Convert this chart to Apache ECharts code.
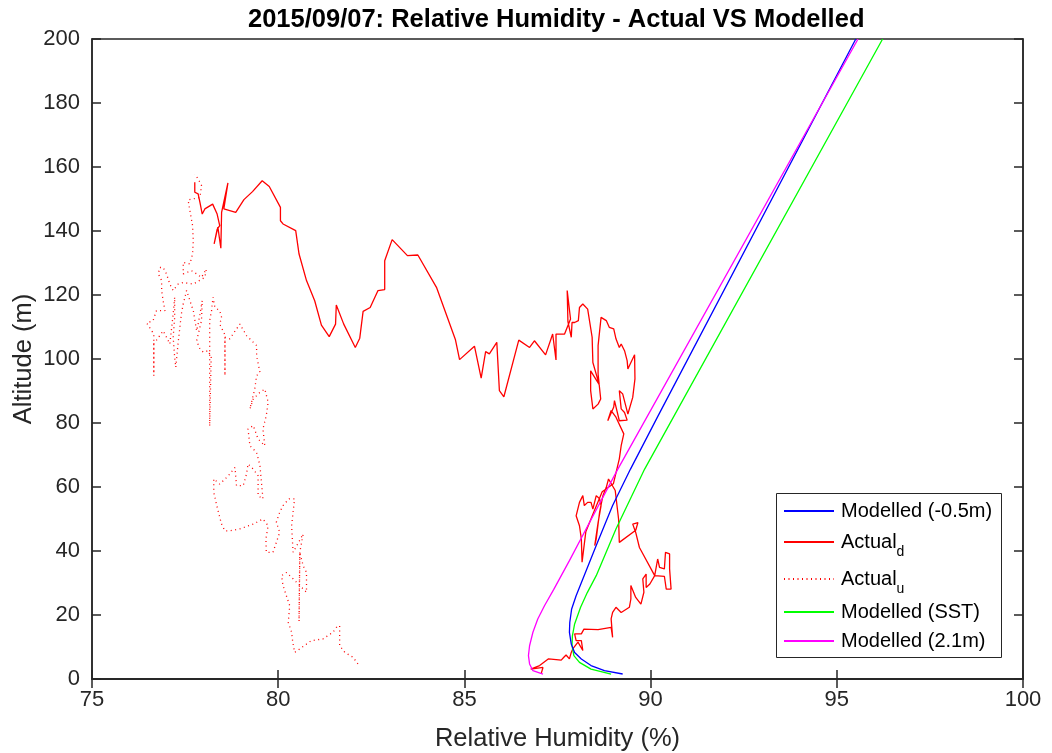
<!DOCTYPE html>
<html>
<head>
<meta charset="utf-8">
<title>Relative Humidity - Actual VS Modelled</title>
<script src="https://cdn.jsdelivr.net/npm/echarts@6/dist/echarts.min.js"></script>
<style>
  html, body { margin: 0; padding: 0; background: #fff; }
  #chart { width: 1052px; height: 753px; }
</style>
</head>
<body>
<div id="chart"></div>
<script>
// Profiles as [relative humidity (%), altitude (m)]
var modelledNeg05 = [
  [89.25,1.56],[88.76,2.6],[88.40,4.2],[88.14,6.25],[87.96,8.3],[87.87,10.9],[87.82,14.6],
  [87.83,17.7],[87.88,21.9],[88.00,26.0],[88.18,31.25],[88.54,41.7],[88.98,54.2],[89.46,65.6],
  [90.19,82.0],[95.51,200]
];
var modelledSST = [
  [88.94,1.56],[88.40,3.1],[88.09,5.2],[87.94,7.3],[87.89,10.4],[87.90,13.5],[87.96,17.2],
  [88.12,22.4],[88.30,27.0],[88.54,32.3],[89.07,46.9],[89.84,65.6],[96.23,200]
];
var modelled21 = [
  [87.11,1.56],[86.84,2.6],[86.75,4.7],[86.72,7.3],[86.75,10.4],[86.84,14.6],[86.97,18.75],
  [87.15,22.9],[87.40,28.0],[87.82,37.0],[88.36,48.9],[89.12,65.6],[95.57,200]
];
var actualDown = [
  [87.06,1.6],[87.11,3.6],[86.78,3.1],[87.02,4.2],[87.26,6.3],[87.60,5.9],[87.67,6.8],[87.73,7.5],
  [87.82,6.3],[87.87,8.3],[87.91,9.4],[88.05,11.5],[88.18,8.9],[88.14,12.0],[88.00,12.0],[87.96,14.1],
  [87.91,14.6],[88.00,14.6],[88.14,14.1],[88.21,15.6],[88.59,15.4],[88.94,16.1],[88.98,13.0],[88.94,18.8],
  [88.98,20.8],[89.07,22.4],[89.21,20.8],[89.43,22.4],[89.47,25.0],[89.47,29.2],[89.60,25.5],[89.74,23.4],
  [89.82,27.1],[89.79,31.3],[89.88,32.8],[89.88,28.6],[89.98,29.7],[90.11,32.3],[90.37,32.1],[90.42,28.1],
  [90.55,28.1],[90.51,34.4],[90.51,39.1],[90.40,39.6],[90.37,34.4],[90.24,34.9],[90.19,37.5],[90.11,32.3],
  [89.70,41.1],[89.60,45.8],[89.52,48.4],[89.66,48.9],[89.60,46.5],[89.16,42.7],[89.14,50.0],[89.05,58.9],
  [88.87,62.5],[88.81,59.9],[88.72,57.3],[88.63,52.1],[88.54,43.8],[88.50,41.7],[88.59,48.9],[88.67,54.2],
  [88.63,56.3],[88.54,57.3],[88.45,53.1],[88.40,55.2],[88.31,55.2],[88.22,54.2],[88.18,57.3],[88.14,57.8],
  [88.09,55.2],[88.00,51.0],[88.05,50.5],[88.09,47.9],[88.14,43.8],[88.16,36.5],[88.26,46.0],[88.45,51.5],
  [88.70,58.5],[89.00,61.0],[89.16,68.8],[89.21,72.9],[89.28,76.6],[89.07,81.8],[88.94,83.9],[88.85,80.7],
  [89.01,85.0],[89.03,87.0],[89.16,80.7],[89.37,80.9],[89.30,83.3],[89.21,84.4],[89.16,90.1],[89.25,89.1],
  [89.39,82.8],[89.52,88.0],[89.58,93.8],[89.57,101.3],[89.43,97.9],[89.39,96.9],[89.37,99.5],[89.30,102.6],
  [89.21,104.7],[89.16,103.6],[89.07,106.3],[89.03,105.7],[89.01,109.4],[88.89,109.9],[88.81,112.0],[88.67,113.0],
  [88.59,104.2],[88.59,95.3],[88.66,87.5],[88.59,85.9],[88.45,84.4],[88.39,90.1],[88.39,96.3],[88.62,92.0],
  [88.45,98.9],[88.43,106.8],[88.31,115.6],[88.18,117.2],[88.09,116.1],[88.06,112.0],[87.96,111.4],[87.89,111.4],
  [87.87,106.8],[87.78,111.7],[87.76,121.4],[87.85,112.5],[87.69,107.8],[87.46,107.8],[87.46,99.7],[87.37,107.8],
  [87.18,101.3],[86.88,105.7],[86.75,103.6],[86.46,105.9],[86.06,88.2],[85.94,90.1],[85.87,105.2],[85.67,101.6],
  [85.57,102.3],[85.45,94.0],[85.27,104.0],[84.87,99.8],[84.76,106.0],[84.25,122.4],[83.75,132.5],[83.47,132.3],
  [83.06,137.3],[82.86,130.7],[82.86,121.7],[82.68,121.4],[82.47,116.1],[82.28,114.9],[82.19,106.5],[82.07,103.6],
  [81.76,110.9],[81.56,116.9],[81.54,110.9],[81.37,107.0],[81.16,110.6],[80.98,118.2],[80.76,124.5],[80.56,132.8],
  [80.47,140.1],[80.13,142.2],[80.06,143.2],[80.06,147.4],[79.76,153.9],[79.57,155.7],[79.31,152.3],[79.08,149.8],
  [78.86,145.8],[78.54,146.9],[78.65,155.0],[78.48,145.8],[78.46,134.6],[78.38,141.2],[78.28,136.0],[78.36,140.5],
  [78.43,141.7],[78.36,145.3],[78.24,148.4],[78.03,146.9],[77.96,145.3],[77.90,148.9],[77.85,151.6],[77.76,152.1],
  [77.76,155.2]
];
var actualUp = [
  [82.14,4.7],[82.01,6.8],[81.79,8.3],[81.65,10.4],[81.65,16.7],[81.56,16.1],[81.47,14.6],[81.20,12.5],
  [80.89,12.0],[80.58,9.4],[80.44,8.3],[80.38,12.5],[80.36,14.6],[80.27,17.7],[80.31,22.9],[80.22,26.0],
  [80.13,29.2],[80.09,32.3],[80.22,33.3],[80.40,31.3],[80.58,29.2],[80.76,27.1],[80.76,33.3],[80.67,35.4],
  [80.58,39.6],[80.56,18.0],[80.58,39.6],[80.67,45.3],[80.40,39.6],[80.36,47.9],[80.40,52.1],[80.44,56.3],
  [80.29,56.3],[80.13,54.2],[80.04,52.1],[79.95,49.0],[80.04,45.8],[79.86,39.6],[79.68,39.6],[79.67,43.8],
  [79.73,47.9],[79.59,50.0],[79.33,48.4],[78.97,46.9],[78.70,46.3],[78.57,46.3],[78.48,48.4],[78.43,50.5],
  [78.34,54.7],[78.27,58.3],[78.27,62.5],[78.43,60.9],[78.66,63.5],[78.84,66.1],[78.88,60.4],[79.06,60.4],
  [79.15,64.1],[79.19,67.2],[79.33,65.6],[79.46,63.5],[79.46,57.3],[79.59,56.3],[79.51,66.7],[79.42,70.8],
  [79.24,72.9],[79.19,78.1],[79.33,79.2],[79.46,75.0],[79.64,72.9],[79.59,78.1],[79.68,82.3],[79.73,86.5],
  [79.64,90.6],[79.51,89.6],[79.33,87.5],[79.24,84.4],[79.37,90.6],[79.42,94.8],[79.51,95.8],[79.42,101.0],
  [79.42,104.2],[79.15,107.3],[78.97,110.9],[78.70,106.3],[78.57,106.8],[78.57,94.8],[78.57,107.5],[78.43,110.9],
  [78.48,113.0],[78.43,115.1],[78.30,116.1],[78.25,119.3],[78.21,115.1],[78.16,112.0],[78.16,79.0],[78.20,100.5],
  [78.12,102.6],[77.99,102.1],[77.90,103.1],[77.81,105.7],[77.94,112.0],[77.96,118.2],[77.90,114.1],[77.85,110.9],
  [77.81,108.8],[77.72,115.1],[77.63,118.2],[77.54,121.4],[77.45,117.2],[77.40,114.1],[77.36,109.9],[77.31,104.7],
  [77.25,97.4],[77.22,100.5],[77.18,106.8],[77.22,113.0],[77.22,119.3],[77.18,114.1],[77.13,108.8],[77.09,104.7],
  [77.00,106.8],[76.91,108.8],[76.66,104.7],[76.66,94.8],[76.66,107.8],[76.47,111.2],[76.64,112.0],[76.73,115.1],
  [76.96,115.1],[76.91,118.2],[76.87,121.4],[76.87,124.5],[76.78,126.6],[76.82,128.6],[76.91,128.6],[77.00,126.6],
  [77.09,123.4],[77.18,121.4],[77.31,123.4],[77.45,123.9],[77.72,123.4],[78.03,125.5],[78.07,128.1],[77.94,125.5],
  [77.81,126.6],[77.67,127.6],[77.45,126.6],[77.45,130.2],[77.63,129.7],[77.70,132.8],[77.72,137.0],[77.70,141.7],
  [77.63,146.3],[77.58,149.7],[77.90,150.5],[77.94,154.2],[77.85,156.3],[77.76,157.8]
];

// Legend entries, top to bottom; a subscript is drawn for the two measured profiles
var legendNames = ['Modelled (-0.5m)', 'Actual_d', 'Actual_u', 'Modelled (SST)', 'Modelled (2.1m)'];

var FONT = '"Liberation Sans", Arial, Helvetica, sans-serif';
var INK = '#262626';

var chart = echarts.init(document.getElementById('chart'), null, { renderer: 'canvas' });

function lineSeries(name, data, color, type) {
  return {
    name: name,
    type: 'line',
    data: data,
    symbol: 'none',
    smooth: false,
    lineStyle: { color: color, width: 1.3, type: type || 'solid' },
    itemStyle: { color: color },
    emphasis: { disabled: true }
  };
}

// One legend row per entry so every row sits at its own height inside the framed box
var rowCenters = [513, 549, 586, 614, 643];
var legends = legendNames.map(function (name, i) {
  var sub = name.indexOf('_') >= 0;
  var h = sub ? 34 : 24;
  return {
    orient: 'vertical',
    left: 783,
    top: rowCenters[i] - h / 2,
    padding: 0,
    itemWidth: 50,
    itemHeight: 14,
    z: 5,
    selectedMode: false,
    data: [name],
    itemStyle: { color: 'transparent', borderColor: 'transparent', borderWidth: 0 },
    formatter: function (n) {
      var parts = n.split('_');
      if (parts.length > 1) return '{m|' + parts[0] + '}{s|' + parts[1] + '}';
      return '{p|' + n + '}';
    },
    textStyle: {
      fontFamily: FONT, fontSize: 20, color: '#000',
      rich: {
        p: { fontFamily: FONT, fontSize: 20, color: '#000', lineHeight: 24, padding: [0, 0, 0, 2] },
        m: { fontFamily: FONT, fontSize: 20, color: '#000', lineHeight: 34, padding: [0, 0, 0, 2] },
        s: { fontFamily: FONT, fontSize: 14, color: '#000', lineHeight: 34, verticalAlign: 'bottom' }
      }
    }
  };
});

var axisLineStyle = { lineStyle: { color: INK, width: 1.5 } };
var tickStyle = { show: true, inside: true, length: 9, lineStyle: { color: INK, width: 1.5 } };

chart.setOption({
  animation: false,
  backgroundColor: '#ffffff',
  title: {
    text: '2015/09/07: Relative Humidity - Actual VS Modelled',
    left: 248,
    top: 7,
    padding: 0,
    textStyle: { fontFamily: FONT, fontSize: 25.5, fontWeight: 'bold', color: '#000' }
  },
  graphic: [{
    type: 'rect',
    z: 4,
    shape: { x: 776.5, y: 493.5, width: 225, height: 164 },
    style: { fill: '#ffffff', stroke: INK, lineWidth: 1 }
  }],
  grid: {
    left: 92, right: 29, top: 39, bottom: 74,
    outerBoundsMode: 'none',
    show: true, borderColor: INK, borderWidth: 1.5, backgroundColor: 'transparent'
  },
  legend: legends,
  xAxis: [{
    type: 'value', min: 75, max: 100, interval: 5,
    name: 'Relative Humidity (%)', nameLocation: 'middle', nameGap: 47,
    nameTextStyle: { fontFamily: FONT, fontSize: 25.5, color: INK },
    axisLine: axisLineStyle, axisTick: tickStyle,
    axisLabel: { fontFamily: FONT, fontSize: 22, color: INK, margin: 10 },
    splitLine: { show: false }
  }, {
    type: 'value', min: 75, max: 100, interval: 5, position: 'top',
    axisLine: axisLineStyle, axisTick: tickStyle,
    axisLabel: { show: false }, splitLine: { show: false }
  }],
  yAxis: [{
    type: 'value', min: 0, max: 200, interval: 20,
    name: 'Altitude (m)', nameLocation: 'middle', nameGap: 55, nameMoveOverlap: false,
    nameTextStyle: { fontFamily: FONT, fontSize: 25.5, color: INK },
    axisLine: axisLineStyle, axisTick: tickStyle,
    axisLabel: { fontFamily: FONT, fontSize: 22, color: INK, margin: 12 },
    splitLine: { show: false }
  }, {
    type: 'value', min: 0, max: 200, interval: 20, position: 'right',
    axisLine: axisLineStyle, axisTick: tickStyle,
    axisLabel: { show: false }, splitLine: { show: false }
  }],
  series: [
    lineSeries('Actual_u', actualUp, '#ff0000', [1, 3.5]),
    lineSeries('Actual_d', actualDown, '#ff0000'),
    lineSeries('Modelled (SST)', modelledSST, '#00ff00'),
    lineSeries('Modelled (-0.5m)', modelledNeg05, '#0000ff'),
    lineSeries('Modelled (2.1m)', modelled21, '#ff00ff')
  ]
});
</script>
</body>
</html>
